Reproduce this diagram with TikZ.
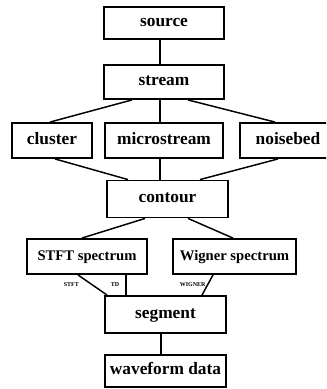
\documentclass[tikz,border=0pt]{standalone}
\usepackage{fontspec}
\setmainfont{Liberation Serif}
\usetikzlibrary{calc}
\begin{document}
\begin{tikzpicture}[x=0.75pt,y=-0.75pt,
  box/.style={draw, line width=1.4pt, inner sep=0pt, anchor=center,
    text height=1.5ex, text depth=.25ex,
    font=\fontsize{13}{15}\selectfont\bfseries},
  sbox/.style={box, font=\fontsize{11}{13}\selectfont\bfseries},
  edge/.style={line width=1.1pt},
  lbl/.style={inner sep=0pt, font=\fontsize{4.5}{5}\selectfont\bfseries}]
\path[use as bounding box, clip] (0,0) rectangle (326,389);

\node[box, minimum width=90pt, minimum height=24pt] (source) at (164,23) {source};
\node[box, minimum width=90pt, minimum height=25.5pt] (stream) at (164,82) {stream};
\node[box, minimum width=60pt, minimum height=26.25pt] (cluster) at (52,140.5) {cluster};
\node[box, minimum width=88.5pt, minimum height=26.25pt] (micro) at (164,140.5) {microstream};
\node[box, minimum width=72pt, minimum height=26.25pt] (noise) at (288,140.5) {noisebed};
\node[box, minimum width=90.75pt, minimum height=27.75pt] (contour) at (167.5,199) {contour};
\node[sbox, minimum width=90pt, minimum height=26.25pt] (stft) at (87,256.5) {STFT spectrum};
\node[sbox, minimum width=92.25pt, minimum height=26.25pt] (wigner) at (234.5,256.5) {Wigner spectrum};
\node[box, minimum width=90.75pt, minimum height=27.75pt] (segment) at (165.5,314.5) {segment};
\node[box, minimum width=90.75pt, minimum height=24pt] (wave) at (165.5,371) {waveform data};

\coordinate (vx) at (160,0);
\coordinate (vy) at (161,0);
\coordinate (tdx) at (126,0);

\draw[edge] (source.south -| vx) -- (stream.north -| vx);
\draw[edge] ($(stream.south)+(-32,0)$) -- ($(cluster.north)+(-2,0)$);
\draw[edge] (stream.south -| vx) -- (micro.north -| vx);
\draw[edge] ($(stream.south)+(24,0)$) -- ($(noise.north)+(-13,0)$);

\draw[edge] ($(cluster.south)+(3,0)$) -- ($(contour.north)+(-39.5,0)$);
\draw[edge] (micro.south -| vx) -- (contour.north -| vx);
\draw[edge] ($(noise.south)+(-10,0)$) -- ($(contour.north)+(32.5,0)$);

\draw[edge] ($(contour.south)+(-22.5,0)$) -- ($(stft.north)+(-5,0)$);
\draw[edge] ($(contour.south)+(20.5,0)$) -- ($(wigner.north)+(-1.5,0)$);

\draw[edge] ($(stft.south)+(-9,0)$) -- node[lbl, pos=0.5, anchor=east, xshift=-9.75pt] {STFT} ($(segment.north west)+(3,0)$);
\draw[edge] (stft.south -| tdx) -- node[lbl, pos=0.5, anchor=east, xshift=-4.5pt] {TD} (segment.north -| tdx);
\draw[edge] ($(wigner.south)+(-21.5,0)$) -- node[lbl, pos=0.5, anchor=east, xshift=-1pt] {WIGNER} ($(segment.north)+(36.5,0)$);

\draw[edge] (segment.south -| vy) -- (wave.north -| vy);
\end{tikzpicture}
\end{document}
